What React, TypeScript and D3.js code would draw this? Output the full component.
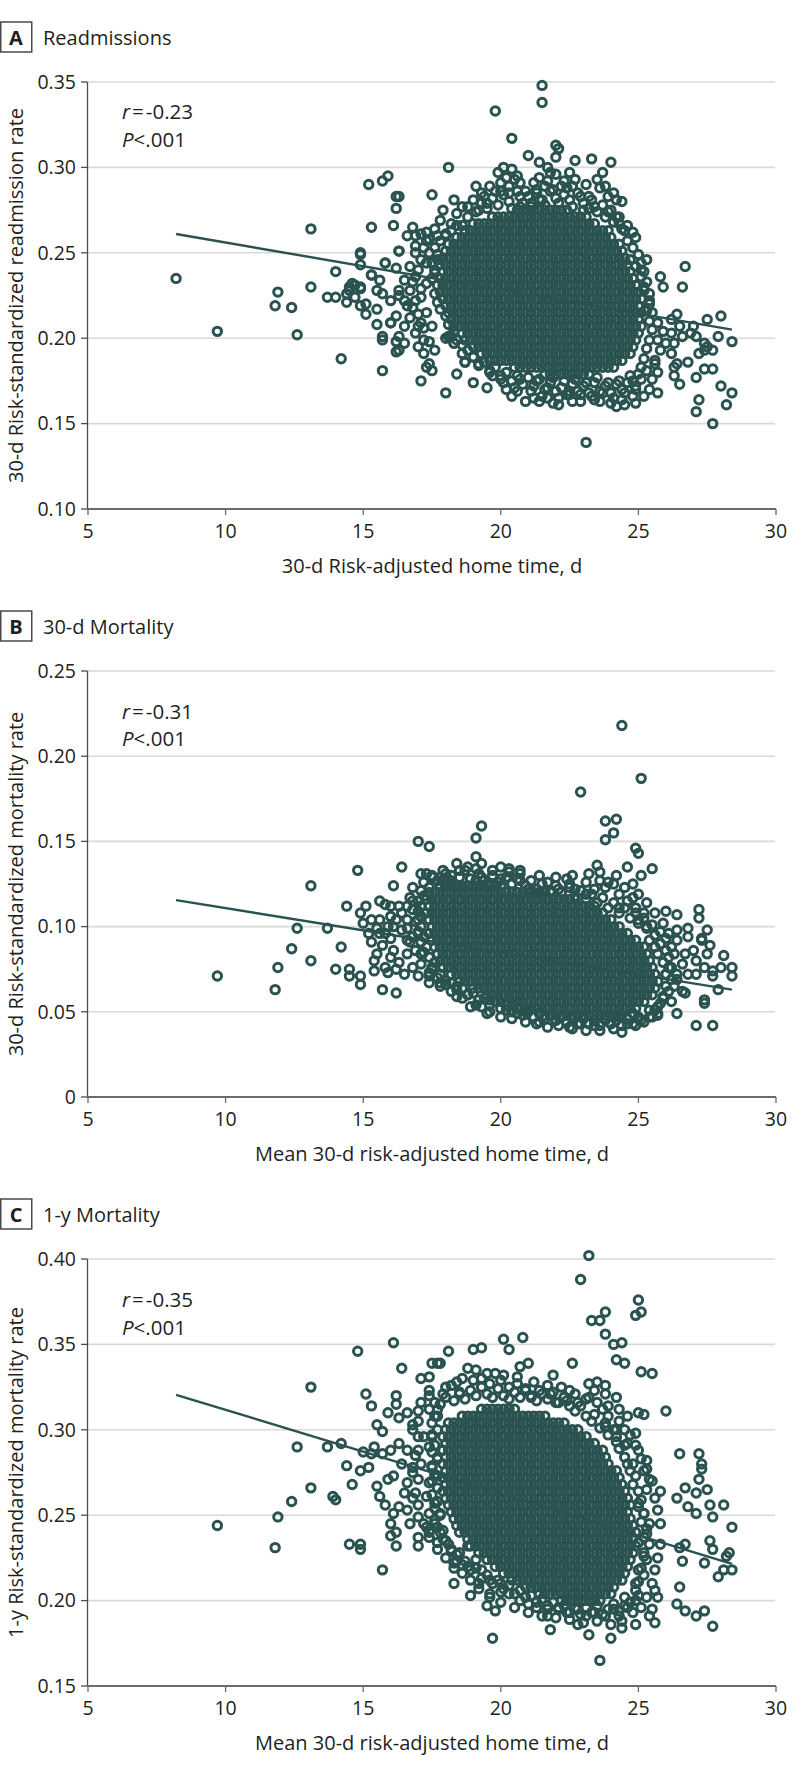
import React from 'react';
import * as d3 from 'd3';

// ---------------- data ----------------
const xTicks = [5, 10, 15, 20, 25, 30];
const readmissionTicks = [0.1, 0.15, 0.2, 0.25, 0.3, 0.35];
const mortality30Ticks = [0, 0.05, 0.1, 0.15, 0.2, 0.25];
const mortality1yTicks = [0.15, 0.2, 0.25, 0.3, 0.35, 0.4];

const panelLetters = ['A', 'B', 'C'];
const panelTitles = ['Readmissions', '30-d Mortality', '1-y Mortality'];
const yLabels = [
  '30-d Risk-standardized readmission rate',
  '30-d Risk-standardized mortality rate',
  '1-y Risk-standardized mortality rate',
];
const xLabels = [
  '30-d Risk-adjusted home time, d',
  'Mean 30-d risk-adjusted home time, d',
  'Mean 30-d risk-adjusted home time, d',
];
const rValues = ['-0.23', '-0.31', '-0.35'];
const pValues = ['<.001', '<.001', '<.001'];

// fitted lines: [home time, rate] endpoints
const readmissionFit: [number, number][] = [[8.2, 0.261], [28.4, 0.205]];
const mortality30Fit: [number, number][] = [[8.2, 0.1155], [28.4, 0.063]];
const mortality1yFit: [number, number][] = [[8.2, 0.3205], [28.4, 0.2215]];

// hospitals: "x,y" with x in tenths of a day, y in thousandths
const readmissionPoints = `82,235 97,204 119,227 118,219 124,218 126,202 131,264 131,230 140,239 142,188 137,224 140,224 144,221 149,249 149,243 153,265 161,266 163,251 158,244 153,237 145,230 147,231 149,229 151,214 155,208 157,199 157,181 162,198 162,192 160,209 152,290 157,292 159,295 162,283 163,283 162,276 175,284 181,300 171,175 180,168 184,179 190,174 195,171 198,333 204,317 215,348 215,338 220,313 221,311 220,306 210,307 214,303 217,300 227,304 233,305 240,303 237,297 231,139 277,150 272,164 271,157 280,172 284,168 282,161 284,198 280,213 275,211 267,242 266,230 258,236 259,230
149,250 153,237 156,234 158,244 162,241 163,251 166,260 168,265 171,261 173,262 173,257 169,250 171,246 174,250 177,246 176,238 173,232 169,236 167,228 163,228 160,222 163,225 166,219 169,222 173,215 175,207 171,209 167,212 165,207 163,201 165,197 163,193 170,195 172,191 169,203 172,199 174,185 175,181 173,183 176,193 157,201 160,209 155,217 151,220 149,219 147,224 144,226 145,228 149,230 146,232 155,228 157,226 162,213 165,222 165,234 167,242 169,254 173,244 177,260 178,269 180,261 179,275 183,281 182,267 184,273 188,277 180,200 187,186 181,201 183,197
193,285 196,289 199,297 201,300 204,299 206,295 205,293 202,294 200,286 203,285 207,283 212,291 213,287 217,292 219,287 222,289 224,288 226,289 229,283 232,283 236,288 238,289 241,285 242,281 244,280 239,274 242,271 243,267 248,262 245,263 211,279 214,281 195,279 190,281 186,277 192,275 234,277 230,275 207,277
247,246 249,242 251,236 252,230 254,226 254,220 255,215 257,209 259,204 257,199 260,197 262,191 258,193 256,187 257,180 255,176 254,170 257,168 252,166 249,162 248,166 245,161 242,160 240,162 234,164 229,163 225,167 221,161 217,165 214,163 209,163 206,169 202,170 200,176 196,180 192,185 190,189 186,191 183,197 182,201 187,186
262,203 263,197 266,201 269,203 271,201 274,197 272,191 274,193 275,195 277,193 279,201 270,207 265,207 262,211 264,214 264,185 265,173 268,186 263,183 263,178 271,177 274,182 277,182 253,246 251,240
186,266 188,271 191,274 193,279 195,276 197,282 199,278 201,284 203,280 204,276 206,286 208,279 210,283 211,277 213,285 215,281 216,278 218,286 220,282 221,279 223,284 225,281 226,277 228,285 230,279 232,276 233,281 235,274 237,278 238,271 240,275 241,268 243,271 244,264 246,266
246,257 248,253 249,259 250,249 251,244 252,239 253,233 252,228 254,222 253,216 254,210 255,205 254,199 253,194 252,188 251,183 250,179 248,175 249,170
246,174 244,170 242,173 240,168 238,172 236,169 234,174 232,168 230,172 228,169 226,173 224,167 222,171 220,169 218,174 216,170 214,176 212,172 210,177 208,173 206,178 204,175 202,180 200,178 198,183 196,181 194,186 192,184 190,189 188,193
186,196 184,199 183,204 181,208 180,213 178,217 177,221 176,226 177,231 175,235 176,240 175,244 177,249 176,253 178,257 180,260 182,263 184,266
197,178 201,174 205,171 207,176 211,169 213,175 215,166 217,171 219,177 221,165 223,175 225,169 227,176 229,167 231,174 233,166 235,177 237,168 239,174 241,165 243,175 245,168 247,178 249,172 251,176 253,181 256,185 204,166 212,165 219,162 226,163 236,163 244,164
194,283 198,286 203,289 207,291 209,286 214,294 216,289 220,296 223,292 227,293 231,290 235,293 239,283 191,289 200,291 218,297 225,297
170,214 171,224 170,240 172,253 169,260 174,258 176,264 168,218 172,206 174,198 171,229 168,233 170,207`;

// saturated core, one row per rate level (thousandths): "y:x x x ..." (x in tenths)
const readmissionCore = [
  '275:206 208 210 212 214 216 218 220 222 224',
  '271:197 199 201 203 205 207 209 211 213 215 217 219 221 223 225 227 229 231',
  '267:190 192 194 196 198 200 202 204 206 208 210 212 214 216 218 220 222 224 226 228 230 232 234',
  '263:187 189 191 193 195 197 199 201 203 205 207 209 211 213 215 217 219 221 223 225 227 229 231 233 235 237 239',
  '259:184 186 188 190 192 194 196 198 200 202 204 206 208 210 212 214 216 218 220 222 224 226 228 230 232 234 236 238 240',
  '255:181 183 185 187 189 191 193 195 197 199 201 203 205 207 209 211 213 215 217 219 221 223 225 227 229 231 233 235 237 239 241 243',
  '251:180 182 184 186 188 190 192 194 196 198 200 202 204 206 208 210 212 214 216 218 220 222 224 226 228 230 232 234 236 238 240 242 244',
  '247:179 181 183 185 187 189 191 193 195 197 199 201 203 205 207 209 211 213 215 217 219 221 223 225 227 229 231 233 235 237 239 241 243 245',
  '243:178 180 182 184 186 188 190 192 194 196 198 200 202 204 206 208 210 212 214 216 218 220 222 224 226 228 230 232 234 236 238 240 242 244 246',
  '239:179 181 183 185 187 189 191 193 195 197 199 201 203 205 207 209 211 213 215 217 219 221 223 225 227 229 231 233 235 237 239 241 243 245 247',
  '235:178 180 182 184 186 188 190 192 194 196 198 200 202 204 206 208 210 212 214 216 218 220 222 224 226 228 230 232 234 236 238 240 242 244 246 248',
  '231:179 181 183 185 187 189 191 193 195 197 199 201 203 205 207 209 211 213 215 217 219 221 223 225 227 229 231 233 235 237 239 241 243 245 247 249',
  '227:178 180 182 184 186 188 190 192 194 196 198 200 202 204 206 208 210 212 214 216 218 220 222 224 226 228 230 232 234 236 238 240 242 244 246 248 250',
  '223:179 181 183 185 187 189 191 193 195 197 199 201 203 205 207 209 211 213 215 217 219 221 223 225 227 229 231 233 235 237 239 241 243 245 247 249 251',
  '219:180 182 184 186 188 190 192 194 196 198 200 202 204 206 208 210 212 214 216 218 220 222 224 226 228 230 232 234 236 238 240 242 244 246 248 250',
  '215:181 183 185 187 189 191 193 195 197 199 201 203 205 207 209 211 213 215 217 219 221 223 225 227 229 231 233 235 237 239 241 243 245 247 249 251',
  '211:182 184 186 188 190 192 194 196 198 200 202 204 206 208 210 212 214 216 218 220 222 224 226 228 230 232 234 236 238 240 242 244 246 248 250',
  '207:183 185 187 189 191 193 195 197 199 201 203 205 207 209 211 213 215 217 219 221 223 225 227 229 231 233 235 237 239 241 243 245 247 249 251',
  '203:186 188 190 192 194 196 198 200 202 204 206 208 210 212 214 216 218 220 222 224 226 228 230 232 234 236 238 240 242 244 246 248 250',
  '199:187 189 191 193 195 197 199 201 203 205 207 209 211 213 215 217 219 221 223 225 227 229 231 233 235 237 239 241 243 245 247 249',
  '195:190 192 194 196 198 200 202 204 206 208 210 212 214 216 218 220 222 224 226 228 230 232 234 236 238 240 242 244 246 248',
  '191:193 195 197 199 201 203 205 207 209 211 213 215 217 219 221 223 225 227 229 231 233 235 237 239 241 243 245 247',
  '187:196 198 200 202 204 206 208 210 212 214 216 218 220 222 224 226 228 230 232 234 236 238 240 242 244',
  '183:205 207 209 211 213 215 217 219 221 223 225 227 229 231 233 235 237 239 241',
  '179:216 218 220 222 224 226 228 230 232',
];

const mortality30Points = `244,218 251,187 229,179 238,162 242,163 241,155 238,151 249,146 250,143 193,159 191,152 170,150 174,147 191,141 193,137 148,133 164,135 171,131 161,124 131,124 235,136 246,135 255,134 251,130 232,131 217,126 224,128 200,135 203,132 207,133 184,137 188,135 182,130 178,129 156,115 151,112 144,112 126,99 137,99 124,87 142,88 119,76 131,80 118,63 140,75 145,75 145,71 149,71 149,66 97,71 157,63 162,61 260,109 264,107 272,110 272,105 268,99 275,98 273,93 276,89 281,83 284,76 284,71 279,63 271,42 277,42 264,49 244,38 249,42 225,41 214,44 195,49 189,53 184,59 180,66 274,57 274,55 255,47
149,108 153,104 156,96 153,91 155,84 159,100 160,93 161,86 163,112 166,112 166,104 164,98 168,94 166,84 162,75 165,72 170,71 168,76 171,84 170,96 170,104 168,115 158,76 154,74 154,80 159,73 174,73 175,76 178,67 174,67 152,96 150,102 156,104 160,106
175,129 179,127 182,125 186,123 191,127 193,129 196,125 200,128 204,125 207,127 210,122 213,119 216,121 221,122 225,125 227,122 231,119 234,122 236,127 238,123 241,125 245,123 248,125 250,119 246,115 243,111 249,111 252,108 253,100 250,104 254,92 257,84 256,88 236,132 242,130
261,96 264,92 263,84 266,78 261,76 267,84 270,86 271,80 274,76 277,74 277,71 280,76 268,72 264,69 271,72 266,62 267,61 259,59 257,53 264,98 268,94 273,92 275,84 260,72
202,51 206,49 209,50 220,45 229,43 234,42 238,45 240,43 243,47 248,49 250,47 254,51 205,54 193,53 196,57 188,60 184,65
172,126 175,130 177,127 180,131 182,127 185,129 187,133 189,128 192,131 194,127 197,130 199,126 202,129 204,125 206,128 209,124 211,127 213,122 215,125 218,121 220,124 222,120 225,123 227,118 229,121 231,116 233,119 235,114 237,117 239,111 241,114 243,108 245,111 247,105 249,108 250,102 252,105 253,99 255,101 256,95 258,97 258,90 260,93 260,86
261,82 259,79 262,76 260,72 262,69 260,65 261,62 259,58 258,55 256,51 257,48 254,47
252,44 250,46 248,43 246,46 244,42 242,45 240,43 238,46 236,42 234,45 232,43 230,46 228,43 226,46 224,44 222,47 220,45 218,48 216,46 214,49 212,47 210,50 208,48 206,52 204,50 202,54 200,52 198,56 196,54 194,58 192,57 190,61 188,60 186,64 184,63 182,67 180,68 178,72 177,70
175,75 176,79 174,82 172,85 173,88 171,91 172,94 170,97 171,100 169,103 171,106 170,109 171,112 170,115 172,118 171,121 174,123
196,50 200,47 204,46 209,44 213,43 217,41 221,42 226,40 231,39 236,39 241,40 246,43 251,45 257,49 262,56 263,65 264,72 262,88 259,102 256,108 253,114 248,117 243,119 239,126 231,126 226,130 220,129 214,130 207,131 203,134 197,133 191,134 185,133 179,133 173,131 168,123 167,117 168,110 166,99 167,91 169,86 171,78 174,71 178,65 182,62 186,58 191,54
160,112 162,104 158,96 157,89 160,82 163,79 166,92 164,108 158,113 155,99 161,100`;

const mortality30Core = [
  '124:178 180 182 184 186 188 190 192 194 196 198 200',
  '120:174 176 178 180 182 184 186 188 190 192 194 196 198 200 202 204 206 208 210 212 214 216 218',
  '116:173 175 177 179 181 183 185 187 189 191 193 195 197 199 201 203 205 207 209 211 213 215 217 219 221 223 225 227',
  '112:174 176 178 180 182 184 186 188 190 192 194 196 198 200 202 204 206 208 210 212 214 216 218 220 222 224 226 228 230 232 234',
  '108:173 175 177 179 181 183 185 187 189 191 193 195 197 199 201 203 205 207 209 211 213 215 217 219 221 223 225 227 229 231 233 235 237',
  '104:174 176 178 180 182 184 186 188 190 192 194 196 198 200 202 204 206 208 210 212 214 216 218 220 222 224 226 228 230 232 234 236 238 240',
  '100:175 177 179 181 183 185 187 189 191 193 195 197 199 201 203 205 207 209 211 213 215 217 219 221 223 225 227 229 231 233 235 237 239 241 243',
  '96:174 176 178 180 182 184 186 188 190 192 194 196 198 200 202 204 206 208 210 212 214 216 218 220 222 224 226 228 230 232 234 236 238 240 242 244 246',
  '92:175 177 179 181 183 185 187 189 191 193 195 197 199 201 203 205 207 209 211 213 215 217 219 221 223 225 227 229 231 233 235 237 239 241 243 245 247 249',
  '88:176 178 180 182 184 186 188 190 192 194 196 198 200 202 204 206 208 210 212 214 216 218 220 222 224 226 228 230 232 234 236 238 240 242 244 246 248 250 252',
  '84:177 179 181 183 185 187 189 191 193 195 197 199 201 203 205 207 209 211 213 215 217 219 221 223 225 227 229 231 233 235 237 239 241 243 245 247 249 251 253',
  '80:178 180 182 184 186 188 190 192 194 196 198 200 202 204 206 208 210 212 214 216 218 220 222 224 226 228 230 232 234 236 238 240 242 244 246 248 250 252 254',
  '76:179 181 183 185 187 189 191 193 195 197 199 201 203 205 207 209 211 213 215 217 219 221 223 225 227 229 231 233 235 237 239 241 243 245 247 249 251 253 255',
  '72:182 184 186 188 190 192 194 196 198 200 202 204 206 208 210 212 214 216 218 220 222 224 226 228 230 232 234 236 238 240 242 244 246 248 250 252 254 256',
  '68:185 187 189 191 193 195 197 199 201 203 205 207 209 211 213 215 217 219 221 223 225 227 229 231 233 235 237 239 241 243 245 247 249 251 253 255 257',
  '64:190 192 194 196 198 200 202 204 206 208 210 212 214 216 218 220 222 224 226 228 230 232 234 236 238 240 242 244 246 248 250 252 254 256',
  '60:195 197 199 201 203 205 207 209 211 213 215 217 219 221 223 225 227 229 231 233 235 237 239 241 243 245 247 249 251 253 255',
  '56:200 202 204 206 208 210 212 214 216 218 220 222 224 226 228 230 232 234 236 238 240 242 244 246 248 250 252',
  '52:207 209 211 213 215 217 219 221 223 225 227 229 231 233 235 237 239 241 243 245 247 249',
  '48:216 218 220 222 224 226 228 230 232 234 236 238 240 242 244',
];

const mortality1yPoints = `232,402 229,388 250,376 249,367 251,369 238,369 233,364 236,364 238,356 241,350 244,351 242,341 245,339 251,334 255,333 226,339 207,337 210,339 201,353 203,347 208,354 219,332 190,347 193,348 181,346 161,351 148,346 164,336 131,325 151,321 175,339 177,339 171,330 260,311 265,286 272,286 273,280 273,277 272,271 267,266 275,265 271,263 258,264 264,260 268,255 271,251 276,256 281,256 277,249 284,243 266,223 274,222 279,214 281,218 284,218 283,228 282,226 276,235 277,230 265,231 267,233 265,208 264,198 267,194 271,191 274,194 277,185 256,206 257,202 255,195 254,191 256,187 249,186 249,200 244,184 240,178 236,165 232,180 228,186 218,183 217,191 197,178 198,194 195,197 189,203 183,210 200,205 157,218 145,233 149,233 149,230 118,231 119,249 124,258 131,266 126,290 137,290 142,292 97,244 139,261 140,259 146,268 144,279 149,276 150,287 152,278 155,267 156,261 158,256 153,286 160,238 162,240 162,232 160,245 170,232 170,237 183,222 184,223
153,314 155,303 157,299 159,310 162,315 162,320 163,307 166,310 168,303 170,311 174,312 176,316 177,308 179,321 180,325 174,323 168,300 172,296 175,297 174,290 170,288 166,288 163,292 160,288 157,286 154,290 164,280 168,278 171,280 175,278 177,284 177,273 174,269 170,271 166,269 161,273 159,271 165,263 168,260 173,261 176,257 178,251 174,251 170,249 166,253 163,255 161,251 167,245 173,243 176,245 179,241 174,237 177,234 180,235 182,230 185,228 188,232 191,224 188,220 193,218 196,212 192,210 196,202 200,210 203,204 207,200 210,198 213,196 217,195 221,196 224,193 228,195 231,191 234,193 238,191 241,195 243,191 246,196 245,202 249,210 250,218 252,226 250,234 253,239 254,245 252,251 250,257 253,265 254,271 252,276 248,280 253,282 250,288 246,292 249,298 245,300 242,296 246,308 243,312 250,310 252,309 242,319 238,321 234,323 232,327 235,328 238,326 232,319 228,316 225,323 224,317 220,316 218,321 214,323 211,319 209,323 206,327 203,325 200,329 198,333 196,327 193,330 191,335 188,336 186,330 182,326 185,321 178,339 174,331 237,312 239,308 238,302 242,300
178,315 180,319 183,317 185,322 187,318 189,323 191,320 193,325 195,321 197,319 199,324 201,320 203,318 205,322 207,319 209,324 211,320 213,317 215,321 217,318 219,322 221,316 223,319 225,314 227,311 229,314 231,308 233,305 234,309 236,301 238,304 239,297 241,300 242,293 243,289 245,291 245,284 246,280
247,276 249,273 248,268 250,264 251,259 250,255 252,251 251,246 253,242 252,237 254,233 252,228 253,224 251,219 252,215 250,211 249,206 250,203 247,199
245,197 243,194 241,198 239,195 237,192 235,197 233,193 231,196 229,192 227,196 225,193 223,197 221,195 219,199 217,197 215,201 213,199 211,203 209,202 207,206 205,204 203,209 201,207 199,212 197,210 195,215 193,213 191,219 189,218 187,223 186,221 184,227 182,229 181,233 179,236 178,240 177,243 176,247 178,250
176,254 177,258 175,262 177,266 175,270 176,274 175,279 177,283 175,287 176,291 175,296 177,300 175,304 176,308 177,312
184,328 190,329 195,333 201,332 206,331 212,328 217,326 222,325 227,321 231,318 235,316 239,314 243,305 247,297 249,291 251,283 253,277 255,270 256,260 257,253 258,245 258,233 257,225 256,218 255,210 253,202 251,196 248,193 244,188 240,186 235,188 230,187 225,189 220,190 215,191 210,193 205,196 200,199 196,204 192,207 189,212 186,216 183,219 180,225 177,230 174,240 172,245 170,256 169,263 168,275 169,285 170,296 170,305 171,316 174,320`;

const mortality1yCore = [
  '312:193 195 197 199 201 203 205',
  '308:186 188 190 192 194 196 198 200 202 204 206 208 210 212 214 216',
  '304:181 183 185 187 189 191 193 195 197 199 201 203 205 207 209 211 213 215 217 219 221 223',
  '300:180 182 184 186 188 190 192 194 196 198 200 202 204 206 208 210 212 214 216 218 220 222 224 226 228',
  '296:179 181 183 185 187 189 191 193 195 197 199 201 203 205 207 209 211 213 215 217 219 221 223 225 227 229 231',
  '292:180 182 184 186 188 190 192 194 196 198 200 202 204 206 208 210 212 214 216 218 220 222 224 226 228 230 232 234',
  '288:179 181 183 185 187 189 191 193 195 197 199 201 203 205 207 209 211 213 215 217 219 221 223 225 227 229 231 233 235 237',
  '284:180 182 184 186 188 190 192 194 196 198 200 202 204 206 208 210 212 214 216 218 220 222 224 226 228 230 232 234 236 238',
  '280:179 181 183 185 187 189 191 193 195 197 199 201 203 205 207 209 211 213 215 217 219 221 223 225 227 229 231 233 235 237 239',
  '276:180 182 184 186 188 190 192 194 196 198 200 202 204 206 208 210 212 214 216 218 220 222 224 226 228 230 232 234 236 238 240 242',
  '272:179 181 183 185 187 189 191 193 195 197 199 201 203 205 207 209 211 213 215 217 219 221 223 225 227 229 231 233 235 237 239 241 243',
  '268:180 182 184 186 188 190 192 194 196 198 200 202 204 206 208 210 212 214 216 218 220 222 224 226 228 230 232 234 236 238 240 242 244',
  '264:179 181 183 185 187 189 191 193 195 197 199 201 203 205 207 209 211 213 215 217 219 221 223 225 227 229 231 233 235 237 239 241 243 245',
  '260:180 182 184 186 188 190 192 194 196 198 200 202 204 206 208 210 212 214 216 218 220 222 224 226 228 230 232 234 236 238 240 242 244 246',
  '256:181 183 185 187 189 191 193 195 197 199 201 203 205 207 209 211 213 215 217 219 221 223 225 227 229 231 233 235 237 239 241 243 245 247',
  '252:182 184 186 188 190 192 194 196 198 200 202 204 206 208 210 212 214 216 218 220 222 224 226 228 230 232 234 236 238 240 242 244 246',
  '248:183 185 187 189 191 193 195 197 199 201 203 205 207 209 211 213 215 217 219 221 223 225 227 229 231 233 235 237 239 241 243 245 247',
  '244:184 186 188 190 192 194 196 198 200 202 204 206 208 210 212 214 216 218 220 222 224 226 228 230 232 234 236 238 240 242 244 246 248',
  '240:185 187 189 191 193 195 197 199 201 203 205 207 209 211 213 215 217 219 221 223 225 227 229 231 233 235 237 239 241 243 245 247 249',
  '236:188 190 192 194 196 198 200 202 204 206 208 210 212 214 216 218 220 222 224 226 228 230 232 234 236 238 240 242 244 246 248',
  '232:189 191 193 195 197 199 201 203 205 207 209 211 213 215 217 219 221 223 225 227 229 231 233 235 237 239 241 243 245 247 249',
  '228:192 194 196 198 200 202 204 206 208 210 212 214 216 218 220 222 224 226 228 230 232 234 236 238 240 242 244 246 248',
  '224:195 197 199 201 203 205 207 209 211 213 215 217 219 221 223 225 227 229 231 233 235 237 239 241 243 245 247',
  '220:198 200 202 204 206 208 210 212 214 216 218 220 222 224 226 228 230 232 234 236 238 240 242 244 246',
  '216:201 203 205 207 209 211 213 215 217 219 221 223 225 227 229 231 233 235 237 239 241 243 245',
  '212:204 206 208 210 212 214 216 218 220 222 224 226 228 230 232 234 236 238 240 242 244',
  '208:209 211 213 215 217 219 221 223 225 227 229 231 233 235 237 239 241',
  '204:214 216 218 220 222 224 226 228 230 232 234 236 238 240',
  '200:222 224 226 228 230 232 234 236',
];

// ---------------- helpers ----------------
function parsePairs(s: string): [number, number][] {
  return s
    .trim()
    .split(/\s+/)
    .map((p) => {
      const [a, b] = p.split(',');
      return [+a / 10, +b / 1000] as [number, number];
    });
}
function parseRows(rows: string[]): [number, number][] {
  const out: [number, number][] = [];
  rows.forEach((r) => {
    const [yy, xs] = r.split(':');
    xs.trim()
      .split(/\s+/)
      .forEach((xv) => out.push([+xv / 10, +yy / 1000]));
  });
  return out;
}

const FONT = "'Open Sans', 'Noto Sans', 'DejaVu Sans', sans-serif";
const INK = '#231f20';
const MARK = '#295250';
const X0 = 88;
const X1 = 776;

const panels = [
  { domain: [0.1, 0.35], top: 82, bottom: 509, ticks: readmissionTicks, fit: readmissionFit, pts: parsePairs(readmissionPoints).concat(parseRows(readmissionCore)), rDy: 37, pDy: 65 },
  { domain: [0, 0.25], top: 671, bottom: 1097, ticks: mortality30Ticks, fit: mortality30Fit, pts: parsePairs(mortality30Points).concat(parseRows(mortality30Core)), rDy: 48, pDy: 75 },
  { domain: [0.15, 0.4], top: 1259, bottom: 1686, ticks: mortality1yTicks, fit: mortality1yFit, pts: parsePairs(mortality1yPoints).concat(parseRows(mortality1yCore)), rDy: 48, pDy: 76 },
];

function Panel({ i }: { i: number }) {
  const p = panels[i];
  const x = d3.scaleLinear().domain([5, 30]).range([X0, X1]);
  const y = d3.scaleLinear().domain(p.domain).range([p.bottom, p.top]);
  const fitPath = d3.line()(p.fit.map(([a, b]) => [x(a), y(b)] as [number, number])) || '';
  const fmt = (v: number) => (v === 0 ? '0' : v.toFixed(2));
  const boxTop = p.top - 60;
  return (
    <g>
      <rect x={0.75} y={boxTop} width={31} height={30} fill="#fff" stroke="#4a4a4a" strokeWidth={1.5} />
      <text x={16} y={boxTop + 23} textAnchor="middle" fontFamily={FONT} fontWeight="bold" fontSize={20} fill={INK}>
        {panelLetters[i]}
      </text>
      <text x={43} y={boxTop + 23} fontFamily={FONT} fontSize={20} fill={INK}>
        {panelTitles[i]}
      </text>
      {p.ticks.slice(1).map((t) => (
        <line key={'g' + t} x1={X0} x2={X1 - 1} y1={y(t)} y2={y(t)} stroke="#d9d9d9" strokeWidth={1.6} />
      ))}
      <g fill="none" stroke={MARK} strokeWidth={3}>
        {p.pts.map(([a, b], k) => (
          <circle key={k} cx={x(a)} cy={y(b)} r={4.2} />
        ))}
      </g>
      <path d={fitPath} fill="none" stroke={MARK} strokeWidth={2.4} />
      <line x1={X0 - 0.5} x2={X0 - 0.5} y1={p.top} y2={p.bottom} stroke="#4d4d4d" strokeWidth={1.3} />
      <line x1={X0 - 1} x2={X1} y1={p.bottom} y2={p.bottom} stroke="#6b6b6b" strokeWidth={2} />
      {p.ticks.map((t) => (
        <g key={'yt' + t}>
          <line x1={X0 - 7} x2={X0 - 0.5} y1={y(t)} y2={y(t)} stroke="#4d4d4d" strokeWidth={1.3} />
          <text x={76} y={y(t)} dy="0.35em" textAnchor="end" fontFamily={FONT} fontSize={19.5} fill={INK}>
            {fmt(t)}
          </text>
        </g>
      ))}
      {xTicks.map((t) => (
        <g key={'xt' + t}>
          <line x1={x(t)} x2={x(t)} y1={p.bottom} y2={p.bottom + 6} stroke="#6b6b6b" strokeWidth={1.3} />
          <text x={x(t)} y={p.bottom + 29} textAnchor="middle" fontFamily={FONT} fontSize={19.5} fill={INK}>
            {t}
          </text>
        </g>
      ))}
      <text x={(X0 + X1) / 2} y={p.bottom + 64} textAnchor="middle" fontFamily={FONT} fontSize={20} fill={INK}>
        {xLabels[i]}
      </text>
      <text
        transform={`translate(23,${(p.top + p.bottom) / 2}) rotate(-90)`}
        textAnchor="middle"
        fontFamily={FONT}
        fontSize={20}
        fill={INK}
      >
        {yLabels[i]}
      </text>
      <text x={122} y={p.top + p.rDy} fontFamily={FONT} fontSize={20.5} fill={INK}>
        <tspan fontStyle="italic">r</tspan>
        <tspan dx={2}>=</tspan>
        <tspan dx={2}>{rValues[i]}</tspan>
      </text>
      <text x={122} y={p.top + p.pDy} fontFamily={FONT} fontSize={20.5} fill={INK}>
        <tspan fontStyle="italic">P</tspan>
        <tspan>{pValues[i]}</tspan>
      </text>
    </g>
  );
}

export default function App() {
  return (
    <svg
      width={798}
      height={1771}
      viewBox="0 0 798 1771"
      style={{ position: 'absolute', left: 0, top: 0, background: '#fff' }}
    >
      <rect width={798} height={1771} fill="#fff" />
      {panels.map((_, i) => (
        <Panel key={i} i={i} />
      ))}
    </svg>
  );
}
